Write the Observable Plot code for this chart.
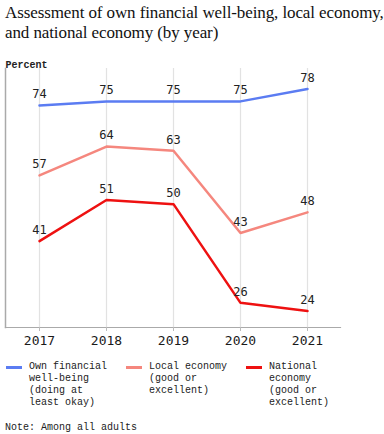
<!DOCTYPE html>
<html>
<head>
<meta charset="utf-8">
<script src="https://cdn.jsdelivr.net/npm/d3@7"></script>
<script src="https://cdn.jsdelivr.net/npm/@observablehq/plot@0.6"></script>
<style>
  html, body { margin: 0; padding: 0; background: #fff; }
  body { width: 384px; height: 434px; overflow: hidden; }
  #title { font-family: "Liberation Serif", "DejaVu Serif", serif; font-size: 17px; line-height: 20px; color: #111; padding: 3px 0 0 5px; height: 45px; box-sizing: border-box; letter-spacing: -0.1px; }
  #chart { margin-top: 3px; height: 302px; }
  #chart svg { display: block; }
  .legend { display: flex; margin-top: 11px; padding-left: 6px; font-family: "Liberation Mono", monospace; font-size: 10px; line-height: 12px; color: #222; }
  .item { display: flex; width: 120px; }
  .sw { width: 16px; height: 3px; margin-top: 5px; margin-right: 7px; flex: none; }
  .lt { width: 90px; white-space: pre; }
  #note { font-family: "Liberation Mono", monospace; font-size: 10px; line-height: 12px; color: #222; margin-top: 13px; padding-left: 5px; }
</style>
</head>
<body>
<div id="title">Assessment of own financial well-being, local economy, and national economy (by year)</div>
<div id="chart"></div>
<div class="legend" id="legend"></div>
<div id="note">Note: Among all adults</div>
<script>
const years = ["2017", "2018", "2019", "2020", "2021"];
const seriesNames = [
  "Own financial well-being (doing at least okay)",
  "Local economy (good or excellent)",
  "National economy (good or excellent)"
];
const legendLabels = [
  "Own financial\nwell-being\n(doing at\nleast okay)",
  "Local economy\n(good or\nexcellent)",
  "National\neconomy\n(good or\nexcellent)"
];
const seriesColors = ["#5b7cf2", "#f5877e", "#ee1111"];
const ownFinancial = [74, 75, 75, 75, 78];
const localEconomy = [57, 64, 63, 43, 48];
const nationalEconomy = [41, 51, 50, 26, 24];

const valuesBySeries = [ownFinancial, localEconomy, nationalEconomy];
const data = [];
seriesNames.forEach((s, i) => {
  years.forEach((y, j) => data.push({series: s, year: y, value: valuesBySeries[i][j]}));
});

const chart = Plot.plot({
  width: 384,
  height: 302,
  marginLeft: 5,
  marginRight: 44,
  marginTop: 20,
  marginBottom: 23,
  style: {background: "#fff", overflow: "visible"},
  x: {type: "point", domain: years, padding: 0.5, label: null},
  y: {domain: [20, 83], axis: null},
  color: {domain: seriesNames, range: seriesColors},
  marks: [
    Plot.ruleX(years, {x: d => d, stroke: "#e2e2e2", strokeWidth: 1.2}),
    Plot.frame({anchor: "left", stroke: "#aaa", strokeWidth: 1.5}),
    Plot.frame({anchor: "bottom", stroke: "#aaa", strokeWidth: 1.2}),
    Plot.axisX({tickSize: 4, tickPadding: 4, stroke: "#bbb", fontSize: 13, fill: "#1a1a1a", fontFamily: "DejaVu Sans Mono", label: null}),
    Plot.line(data, {x: "year", y: "value", z: "series", stroke: "series", strokeWidth: 2.5}),
    Plot.text(data, {x: "year", y: "value", text: d => String(d.value), dy: -11, fill: "#222", fontSize: 12, fontFamily: "DejaVu Sans Mono"}),
    Plot.text(["Percent"], {frameAnchor: "top-left", text: d => d, dy: -8, dx: 0, textAnchor: "start", fontSize: 10, fontFamily: "Liberation Mono", fontWeight: "bold", fill: "#222"})
  ]
});
document.getElementById("chart").appendChild(chart);

const legend = document.getElementById("legend");
legendLabels.forEach((s, i) => {
  const item = document.createElement("div");
  item.className = "item";
  const sw = document.createElement("div");
  sw.className = "sw";
  sw.style.background = seriesColors[i];
  const t = document.createElement("div");
  t.className = "lt";
  t.textContent = s;
  item.appendChild(sw);
  item.appendChild(t);
  legend.appendChild(item);
});
</script>
</body>
</html>
